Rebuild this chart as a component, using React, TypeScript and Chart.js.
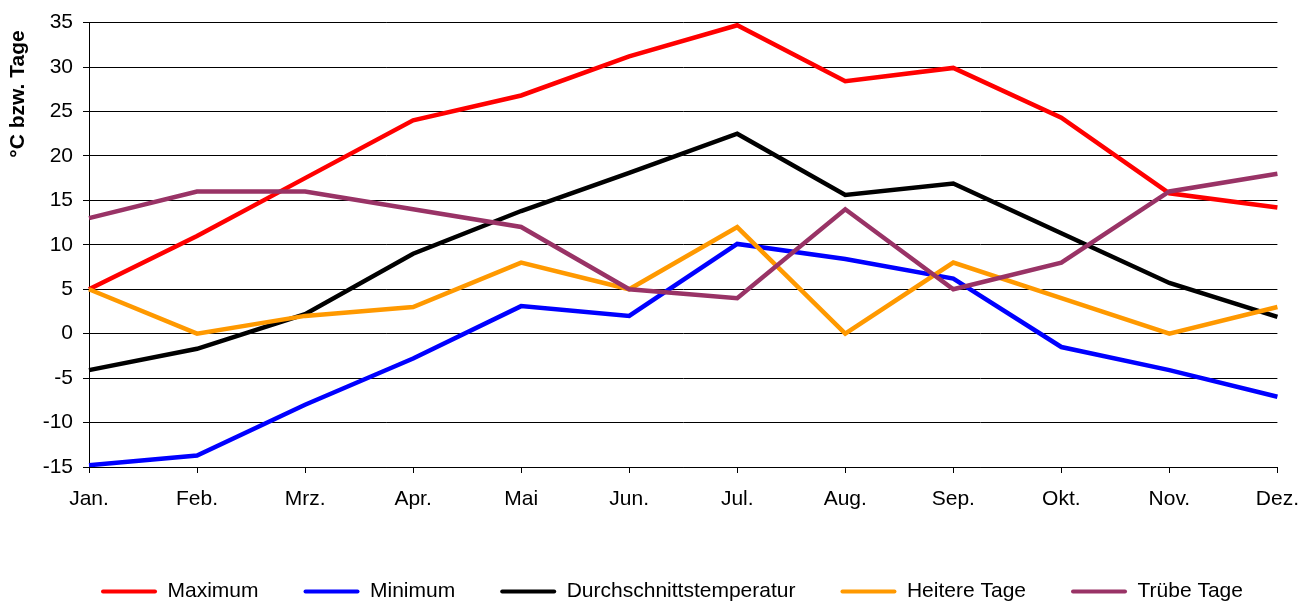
import React, { useEffect, useRef } from "react";
import { Chart, registerables } from "chart.js";

Chart.register(...registerables);

const months = ["Jan.", "Feb.", "Mrz.", "Apr.", "Mai", "Jun.", "Jul.", "Aug.", "Sep.", "Okt.", "Nov.", "Dez."];
const maximum = [5, 11, 17.5, 24, 26.8, 31.2, 34.7, 28.4, 29.9, 24.3, 15.8, 14.2];
const minimum = [-14.8, -13.7, -8, -2.8, 3.1, 2, 10.1, 8.4, 6.2, -1.5, -4.1, -7.1];
const durchschnitt = [-4.1, -1.7, 2.2, 9, 13.8, 18.1, 22.5, 15.6, 16.9, 11.3, 5.7, 1.9];
const heitereTage = [5, 0, 2, 3, 8, 5, 12, 0, 8, 4, 0, 3];
const trubeTage = [13, 16, 16, 14, 12, 5, 4, 14, 5, 8, 16, 18];

const yMin = -15;
const yMax = 35;
const yStep = 5;
const yTitle = "°C bzw. Tage";

const FONT = "'Liberation Sans', Arial, sans-serif";

const seriesDefs = [
  { label: "Maximum", data: maximum, color: "#FF0000" },
  { label: "Minimum", data: minimum, color: "#0000FF" },
  { label: "Durchschnittstemperatur", data: durchschnitt, color: "#000000" },
  { label: "Heitere Tage", data: heitereTage, color: "#FF9900" },
  { label: "Trübe Tage", data: trubeTage, color: "#993366" },
];

const yTitlePlugin = {
  id: "yTitlePlugin",
  afterDraw(chart: any) {
    const ctx = chart.ctx;
    ctx.save();
    ctx.translate(18, 94);
    ctx.rotate(-Math.PI / 2);
    ctx.font = `bold 21px ${FONT}`;
    ctx.fillStyle = "#000";
    ctx.textAlign = "center";
    ctx.textBaseline = "middle";
    ctx.fillText(yTitle, 0, 0);
    ctx.restore();
  },
};

const legendShiftPlugin = {
  id: "legendShiftPlugin",
  afterLayout(chart: any) {
    const lg = chart.legend;
    if (lg) {
      lg.left += 33;
      lg.right += 33;
    }
  },
};

export default function App() {
  const ref = useRef<HTMLCanvasElement | null>(null);
  useEffect(() => {
    if (!ref.current) return;
    const n = seriesDefs.length;
    const chart = new Chart(ref.current, {
      type: "line",
      data: {
        labels: months,
        datasets: seriesDefs.map((s, i) => ({
          label: s.label,
          data: s.data,
          borderColor: s.color,
          backgroundColor: s.color,
          borderWidth: 4.5,
          pointRadius: 0,
          tension: 0,
          fill: false,
          order: n - i,
        })),
      },
      options: {
        animation: false,
        responsive: false,
        layout: { padding: { top: 21, right: 35, left: 0, bottom: -6 } },
        plugins: {
          tooltip: { enabled: false },
          legend: {
            position: "bottom",
            labels: {
              boxWidth: 56,
              boxHeight: 4,
              padding: 45,
              color: "#000",
              font: { family: FONT, size: 21 },
              sort: (a: any, b: any) => a.datasetIndex - b.datasetIndex,
              generateLabels: (chart: any) => {
                const items = Chart.defaults.plugins.legend.labels.generateLabels(chart);
                return items.map((it: any) => ({ ...it, lineWidth: 0, borderRadius: 2 }));
              },
            },
          },
        },
        scales: {
          x: {
            offset: false,
            grid: {
              drawOnChartArea: false,
              drawTicks: true,
              tickLength: 6,
              color: "#000",
            },
            border: { color: "#000", width: 1 },
            ticks: {
              color: "#000",
              padding: 14,
              maxRotation: 0,
              autoSkip: false,
              font: { family: FONT, size: 21 },
            },
            afterFit: (scale: any) => {
              scale.height = 69;
            },
          },
          y: {
            min: yMin,
            max: yMax,
            grid: {
              color: "#000",
              lineWidth: 1,
              drawTicks: true,
              tickLength: 6,
            },
            border: { color: "#000", width: 1 },
            ticks: {
              stepSize: yStep,
              color: "#000",
              padding: 10,
              font: { family: FONT, size: 21 },
            },
            afterFit: (scale: any) => {
              scale.width = 89;
            },
          },
        },
      },
      plugins: [yTitlePlugin, legendShiftPlugin],
    });
    return () => chart.destroy();
  }, []);
  return (
    <div style={{ position: "absolute", left: 0, top: 0, width: 1313, height: 606, background: "#fff" }}>
      <canvas ref={ref} width={1313} height={606} />
    </div>
  );
}
